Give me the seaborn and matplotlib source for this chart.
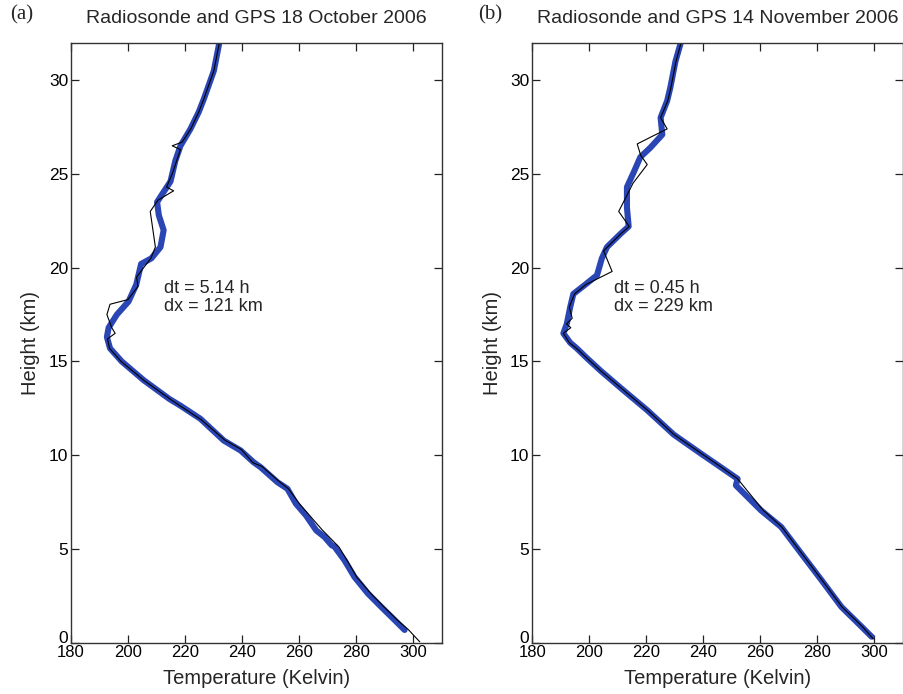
import matplotlib
matplotlib.use("Agg")
import matplotlib.pyplot as plt
from matplotlib import font_manager
import matplotlib.transforms as mtransforms
import seaborn as sns
import pandas as pd

# ---------------- data ----------------
# Panel (a): 18 October 2006
gps_a_height = [0.68, 1.21, 1.91, 2.63, 3.51, 4.40, 5.00, 5.11, 5.20, 5.64, 5.99, 6.79, 7.41,
                8.21, 8.56, 9.36, 9.63, 10.25, 10.78, 11.94, 12.64, 13.0, 14.0, 15.0, 15.7,
                16.3, 16.8, 17.5, 18.2, 19.1, 20.2, 20.5, 21.1, 22.0, 22.8, 23.5, 23.9, 24.6,
                25.7, 26.5, 27.4, 28.3, 29.0, 30.5, 31.9, 32.3]
gps_a_temp = [297.0, 293.5, 288.8, 284.1, 279.4, 275.9, 273.0, 272.6, 271.4, 268.9, 266.0, 262.4, 258.9,
              255.9, 252.4, 246.5, 244.0, 239.5, 233.6, 225.4, 218.4, 214.5, 205.5, 197.8, 193.7,
              192.6, 193.2, 196.1, 200.2, 202.9, 204.6, 208.2, 211.4, 212.5, 210.8, 210.2, 211.9, 214.9,
              216.6, 218.4, 221.9, 224.8, 226.6, 230.1, 231.9, 232.2]

rs_a_height = [0.05, 0.7, 1.2, 1.9, 2.6, 3.5, 4.4, 5.1, 5.6, 6.0, 6.8, 7.4, 8.2, 8.6, 9.4, 9.6,
               10.3, 10.8, 11.9, 12.6, 13.0, 14.0, 15.0, 15.7, 16.2, 16.5, 16.8, 17.5, 18.05,
               18.3, 19.0, 19.5, 20.0, 20.5, 21.1, 23.0, 23.6, 24.1, 24.3, 25.0, 26.3, 26.5,
               26.7, 27.4, 28.3, 29.0, 30.5, 31.9, 32.3]
rs_a_temp = [302.3, 298.3, 294.5, 289.8, 285.3, 280.2, 276.8, 274.0, 270.8, 268.2, 263.6, 260.2, 256.3, 253.0, 247.0, 243.8,
             239.8, 234.0, 225.6, 218.6, 214.7, 205.5, 197.6, 193.5, 192.8, 195.5, 194.3, 192.6, 193.7,
             200.0, 203.5, 203.0, 205.5, 208.0, 209.6, 207.8, 210.5, 216.0, 213.5, 215.5, 218.4, 215.5,
             219.0, 222.0, 224.8, 226.6, 230.1, 231.9, 232.2]

# Panel (b): 14 November 2006
gps_b_height = [0.32, 0.85, 1.91, 3.34, 4.76, 6.17, 7.06, 8.39, 8.74, 9.36, 10.1, 11.1, 12.4,
                13.6, 14.5, 15.2, 15.7, 16.0, 16.5, 17.0, 17.9, 18.6, 19.1, 19.6, 20.5, 21.1,
                21.8, 22.2, 23.2, 24.3, 25.1, 25.9, 26.4, 27.1, 28.0, 28.9, 29.6, 31.0, 31.9, 32.3]
gps_b_temp = [299.0, 295.5, 288.4, 281.4, 274.3, 267.3, 260.2, 251.4, 252.0, 246.1, 239.0, 229.6, 220.3,
              210.9, 204.0, 199.0, 195.6, 193.3, 190.9, 192.1, 193.3, 194.4, 198.6, 202.7, 204.4, 206.2,
              210.9, 213.8, 213.2, 213.2, 215.6, 217.9, 221.4, 225.6, 225.0, 227.3, 228.4, 230.2, 231.9, 232.3]

rs_b_height = [0.2, 0.85, 1.91, 3.34, 4.76, 6.17, 7.06, 8.74, 9.36, 10.1, 11.1, 12.4, 13.6, 14.5,
               15.2, 15.7, 16.0, 16.5, 16.8, 17.0, 17.3, 17.9, 18.6, 19.1, 19.8, 20.9, 21.8, 22.2,
               23.0, 23.8, 24.5, 25.5, 26.0, 26.6, 27.0, 27.4, 28.0, 28.9, 29.6, 31.0, 31.9, 32.3]
rs_b_temp = [299.6, 295.8, 288.6, 281.6, 274.5, 267.5, 261.0, 252.0, 246.3, 239.2, 229.7, 220.4, 211.0, 204.0,
             199.0, 195.5, 193.0, 190.9, 193.5, 192.0, 194.0, 193.0, 194.8, 198.8, 208.0, 205.0, 211.0, 214.0,
             210.3, 213.0, 215.3, 220.3, 218.0, 216.8, 222.0, 227.3, 225.0, 227.5, 228.6, 230.4, 232.0, 232.3]

titles = ["Radiosonde and GPS 18 October 2006", "Radiosonde and GPS 14 November 2006"]
panel_tags = ["(a)", "(b)"]
annotations = ["dt = 5.14 h\ndx = 121 km", "dt = 0.45 h\ndx = 229 km"]
x_ticks = [180, 200, 220, 240, 260, 280, 300]
y_ticks = [0, 5, 10, 15, 20, 25, 30]

# ---------------- style ----------------
sns.set_style("ticks")
available = {f.name for f in font_manager.fontManager.ttflist}
main_font = "Liberation Sans" if "Liberation Sans" in available else "DejaVu Sans"
narrow_font = "Liberation Sans Narrow" if "Liberation Sans Narrow" in available else main_font
serif_font = "Liberation Serif" if "Liberation Serif" in available else "DejaVu Serif"
plt.rcParams["font.family"] = [main_font, "DejaVu Sans"]

fig = plt.figure(figsize=(9.04, 6.94), dpi=100)
positions = [[0.0785, 0.0739, 0.4101, 0.8646], [0.5888, 0.0739, 0.4101, 0.8646]]

datasets = [
    (rs_a_height, rs_a_temp, gps_a_height, gps_a_temp),
    (rs_b_height, rs_b_temp, gps_b_height, gps_b_temp),
]
blue = "#2a46b4"

for i, (rh, rt, gh, gt) in enumerate(datasets):
    ax = fig.add_axes(positions[i])
    df_rs = pd.DataFrame({"Temperature": rt, "Height": rh})
    df_gps = pd.DataFrame({"Temperature": gt, "Height": gh})
    sns.lineplot(data=df_gps, x="Temperature", y="Height", sort=False, estimator=None,
                 ax=ax, color=blue, linewidth=4.4,
                 solid_capstyle="round", solid_joinstyle="round")
    sns.lineplot(data=df_rs, x="Temperature", y="Height", sort=False, estimator=None,
                 ax=ax, color="black", linewidth=0.8)
    ax.set_xlim(180, 310)
    ax.set_ylim(0, 32)
    ax.set_xticks(x_ticks)
    ax.set_yticks(y_ticks)
    ax.set_xticklabels([str(v) for v in x_ticks], fontfamily=narrow_font, fontsize=12)
    ax.set_yticklabels([str(v) for v in y_ticks], fontsize=12.5)
    ax.tick_params(direction="in", length=6, width=0.9, top=True, right=True,
                   colors="#222222", labelcolor="black", pad=2)
    # nudge the "0" label up slightly so it sits above the "180" label
    zero_lbl = ax.get_yticklabels()[0]
    zero_lbl.set_transform(zero_lbl.get_transform() +
                           mtransforms.ScaledTranslation(0, 4 / 72, fig.dpi_scale_trans))
    for s in ax.spines.values():
        s.set_visible(True)
        s.set_linewidth(1.0)
        s.set_color("#333333")
    ax.set_xlabel("Temperature (Kelvin)", fontfamily=narrow_font, fontsize=14.5, labelpad=6)
    ax.set_ylabel("Height (km)", fontsize=14.5, labelpad=6)
    ax.set_title(titles[i], fontsize=14, pad=14)
    ax.text(0.25 if i == 0 else 0.22, 0.575, annotations[i], transform=ax.transAxes,
            fontsize=13, va="center", ha="left", linespacing=1.1)
    tag_x = 22 / 904 if i == 0 else 490 / 904
    fig.text(tag_x, 1 - 15 / 694, panel_tags[i], fontfamily=serif_font, fontsize=15,
             ha="center", va="center")

fig.savefig("out.png", dpi=100)
